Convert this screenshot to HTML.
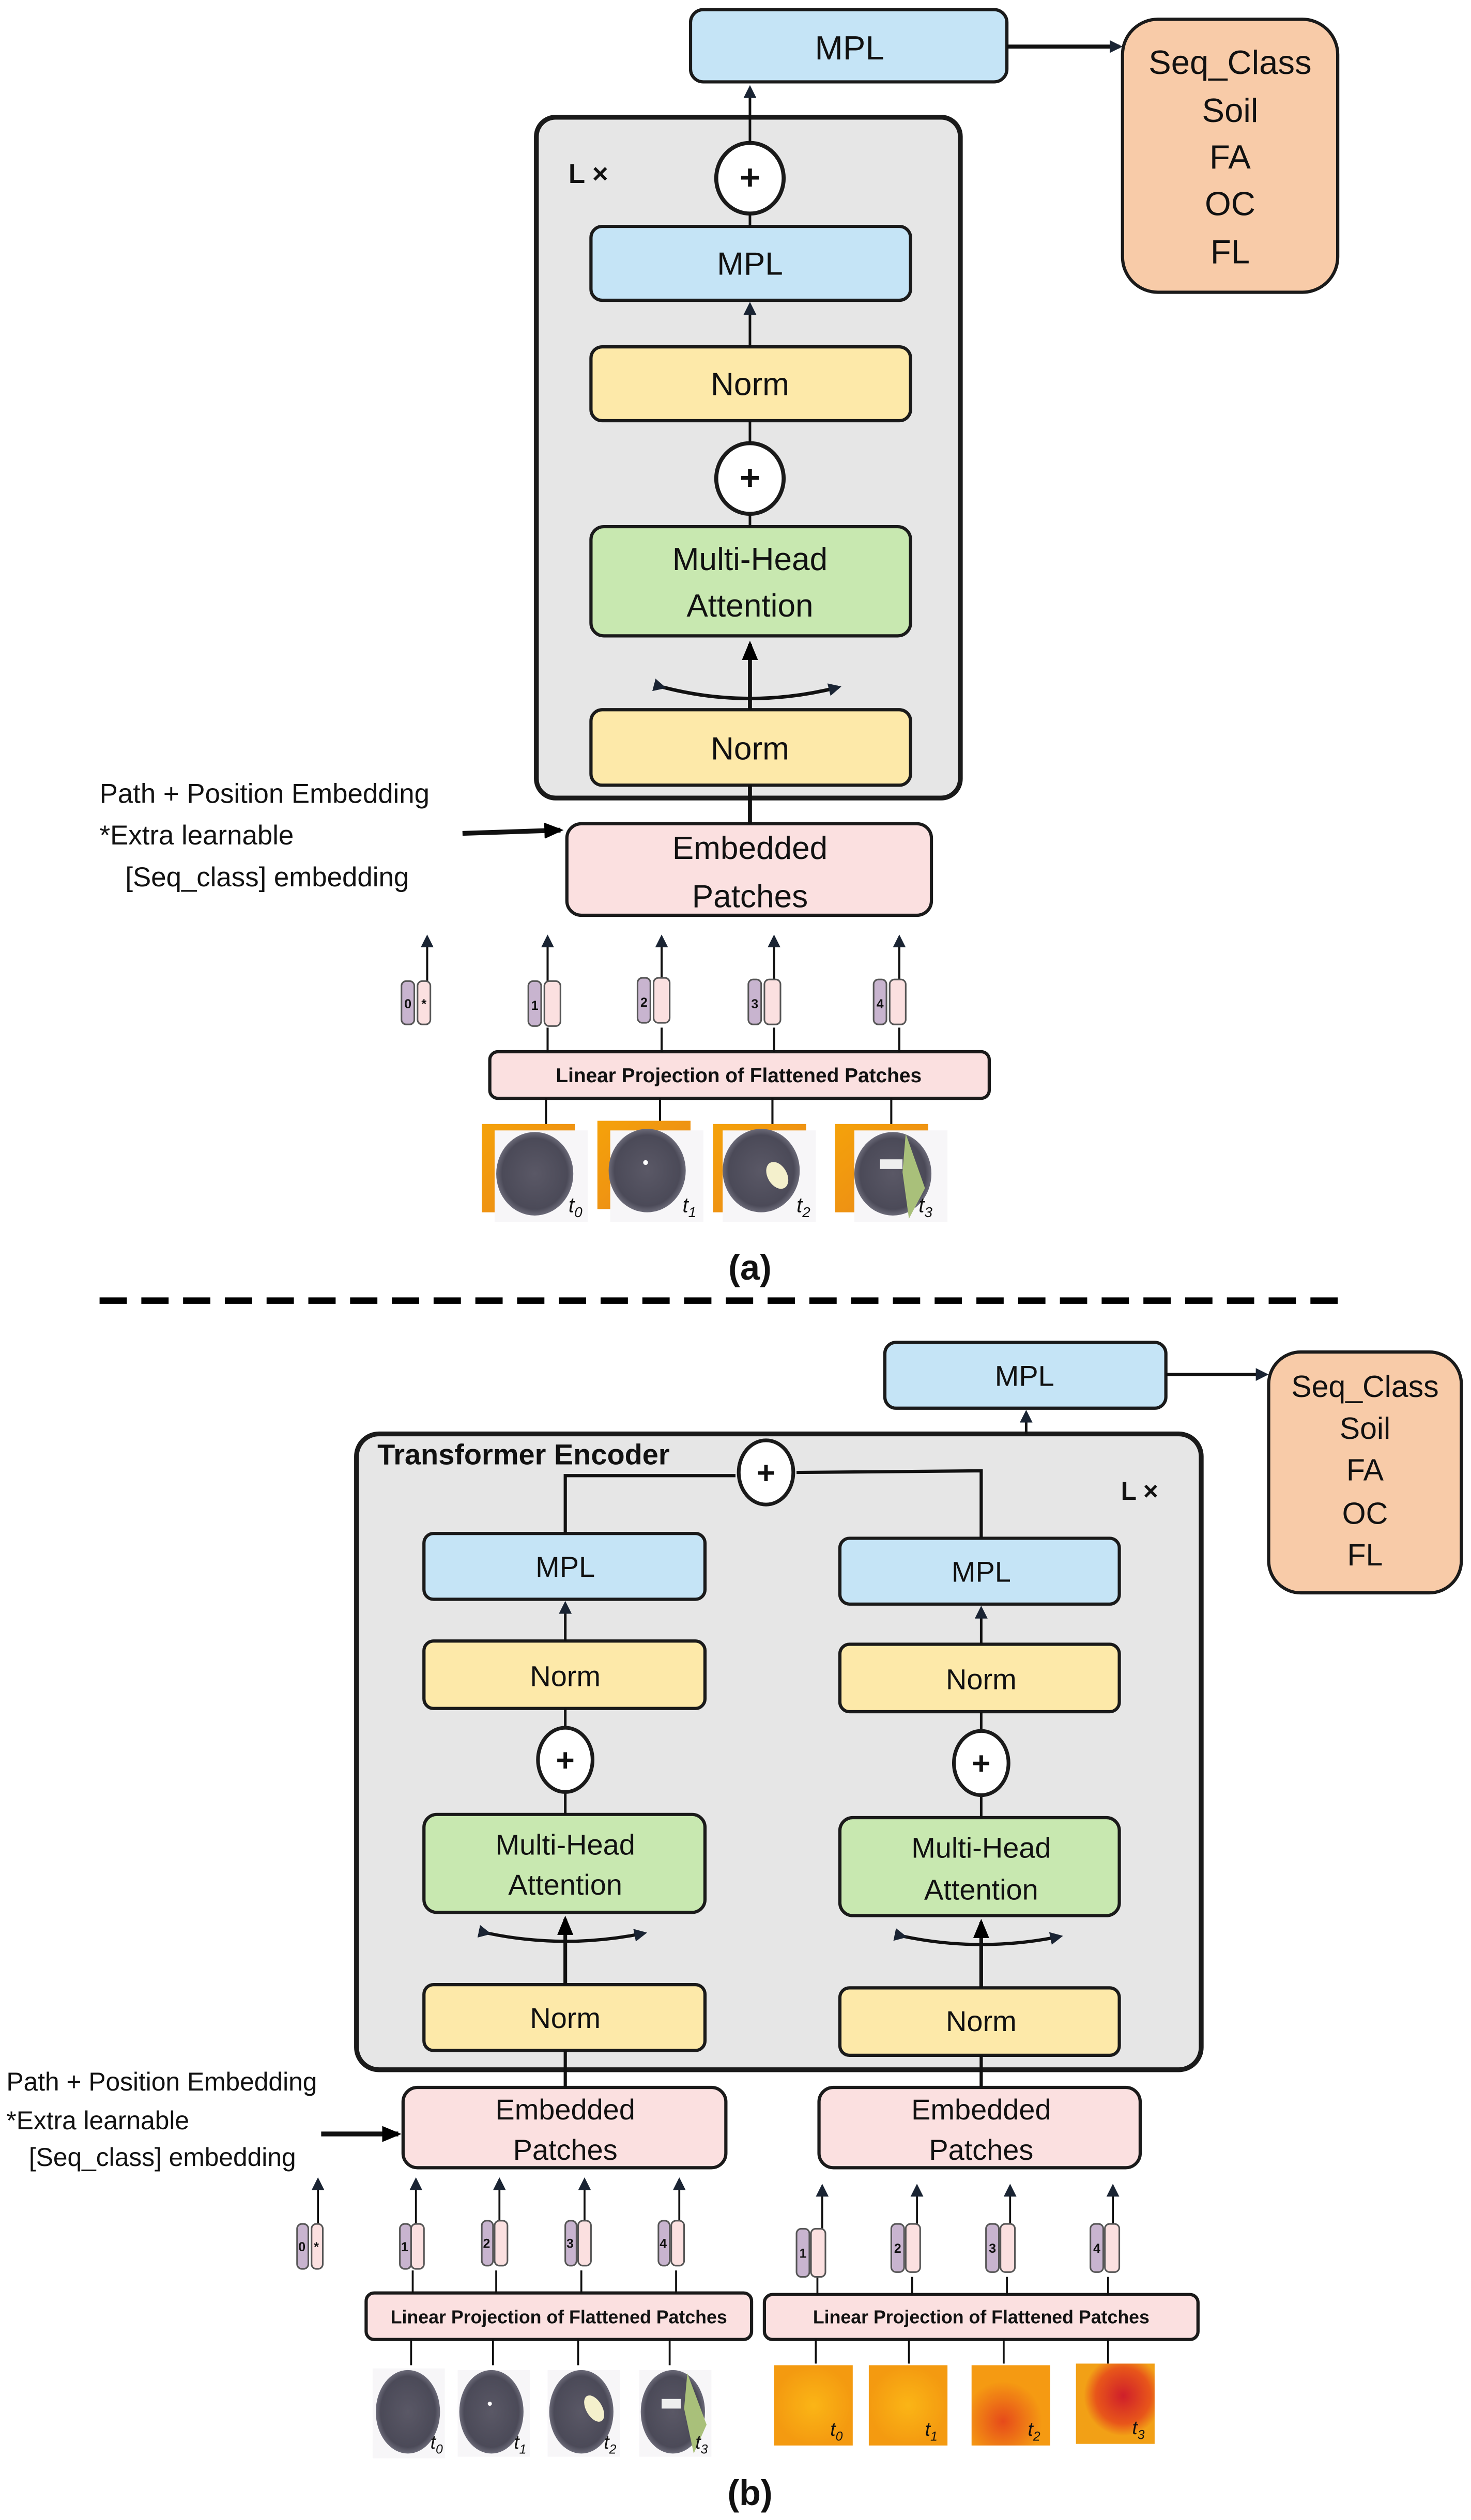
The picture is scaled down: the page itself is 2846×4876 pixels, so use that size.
<!DOCTYPE html>
<html><head><meta charset="utf-8"><style>html,body{margin:0;padding:0;background:#fff}svg{display:block}text{font-family:"Liberation Sans",sans-serif;fill:#111}</style></head>
<body>
<svg width="2846" height="4876" viewBox="0 0 916 1569.4" preserveAspectRatio="none" xmlns="http://www.w3.org/2000/svg">
<defs>
<marker id="ah" markerWidth="8" markerHeight="8" refX="6" refY="4" orient="auto" markerUnits="userSpaceOnUse"><path d="M0,0 L8,4 L0,8 Z" fill="#1a2433"/></marker>
<marker id="ahb" markerWidth="12" markerHeight="12" refX="10" refY="6" orient="auto" markerUnits="userSpaceOnUse"><path d="M0,1 L12,6 L0,11 Z" fill="#000"/></marker>
<linearGradient id="og" x1="0" y1="0" x2="1" y2="1"><stop offset="0" stop-color="#f5a20a"/><stop offset="1" stop-color="#e9861a"/></linearGradient>
<radialGradient id="grain" cx="0.5" cy="0.5" r="0.5"><stop offset="0" stop-color="#5a5866"/><stop offset="0.85" stop-color="#4b4a58"/><stop offset="1" stop-color="#6b6a78"/></radialGradient>
<radialGradient id="h0"><stop offset="0" stop-color="#fbb516"/><stop offset="1" stop-color="#f49a10"/></radialGradient>
<radialGradient id="h2" cx="0.4" cy="0.7"><stop offset="0" stop-color="#e64a1a"/><stop offset="1" stop-color="#f59a12"/></radialGradient>
<radialGradient id="h3" cx="0.6" cy="0.4"><stop offset="0" stop-color="#cf1f2a"/><stop offset="0.7" stop-color="#e8561a"/><stop offset="1" stop-color="#f2a016"/></radialGradient>
</defs>
<g stroke="#1a1a1a" stroke-width="2">
<!-- ===== (a) ===== -->
<rect x="430" y="6" width="197" height="45" rx="8" fill="#c5e4f6"/>
<rect x="699" y="12" width="134" height="170" rx="22" fill="#f8cba8"/>
<rect x="334" y="73" width="264" height="424" rx="12" fill="#e6e6e6" stroke-width="3"/>
<rect x="368" y="141" width="199" height="46" rx="7" fill="#c5e4f6"/>
<rect x="368" y="216" width="199" height="46" rx="7" fill="#fde9a9"/>
<rect x="368" y="328" width="199" height="68" rx="8" fill="#c8e8b0"/>
<rect x="368" y="442" width="199" height="47" rx="7" fill="#fde9a9"/>
<ellipse cx="467" cy="111" rx="21" ry="22" fill="#fff" stroke-width="2.5"/>
<ellipse cx="467" cy="298" rx="21" ry="22" fill="#fff" stroke-width="2.5"/>
<rect x="353" y="513" width="227" height="57" rx="9" fill="#fbe0e0"/>
<rect x="305" y="655" width="311" height="29" rx="5" fill="#fbe0e0"/>
</g>
<g stroke="#111" stroke-width="1.6" fill="none">
<line x1="467" y1="89" x2="467" y2="55" marker-end="url(#ah)"/>
<line x1="467" y1="141" x2="467" y2="133"/>
<line x1="467" y1="216" x2="467" y2="190" marker-end="url(#ah)"/>
<line x1="467" y1="276" x2="467" y2="262"/>
<line x1="467" y1="328" x2="467" y2="320"/>
<line x1="467" y1="513" x2="467" y2="489" stroke-width="2.5"/>
<line x1="467" y1="442" x2="467" y2="401" stroke-width="2.5" marker-end="url(#ahb)"/>
<path d="M413,428 Q467,442 522,428" stroke-width="2.2" marker-start="url(#ah)" marker-end="url(#ah)"/>
<line x1="627" y1="29" x2="697" y2="29" stroke-width="2.5" marker-end="url(#ah)"/>
<line x1="288" y1="519" x2="349" y2="517" stroke-width="3" marker-end="url(#ahb)"/>
</g>
<text x="529" y="37" font-size="21" text-anchor="middle">MPL</text>
<g font-size="21" text-anchor="middle"><text x="766" y="46">Seq_Class</text><text x="766" y="76">Soil</text><text x="766" y="105">FA</text><text x="766" y="134">OC</text><text x="766" y="164">FL</text></g>
<text x="354" y="114" font-size="17" font-weight="bold">L ×</text>
<text x="467" y="118" font-size="22" font-weight="bold" text-anchor="middle">+</text>
<text x="467" y="305" font-size="22" font-weight="bold" text-anchor="middle">+</text>
<text x="467" y="171" font-size="20" text-anchor="middle">MPL</text>
<text x="467" y="246" font-size="20" text-anchor="middle">Norm</text>
<text x="467" y="355" font-size="20" text-anchor="middle">Multi-Head</text>
<text x="467" y="384" font-size="20" text-anchor="middle">Attention</text>
<text x="467" y="473" font-size="20" text-anchor="middle">Norm</text>
<text x="467" y="535" font-size="20" text-anchor="middle">Embedded</text>
<text x="467" y="565" font-size="20" text-anchor="middle">Patches</text>
<g font-size="17"><text x="62" y="500">Path + Position Embedding</text><text x="62" y="526">*Extra learnable</text><text x="78" y="552">[Seq_class] embedding</text></g>
<text x="460" y="674" font-size="12.5" font-weight="bold" text-anchor="middle">Linear Projection of Flattened Patches</text>
<!-- tokens a -->
<g id="tokA">
<g stroke="#111" stroke-width="1.3" fill="none">
<line x1="266" y1="612" x2="266" y2="584" marker-end="url(#ah)"/>
<line x1="341" y1="612" x2="341" y2="584" marker-end="url(#ah)"/><line x1="341" y1="640" x2="341" y2="655"/>
<line x1="412" y1="612" x2="412" y2="584" marker-end="url(#ah)"/><line x1="412" y1="640" x2="412" y2="655"/>
<line x1="482" y1="612" x2="482" y2="584" marker-end="url(#ah)"/><line x1="482" y1="640" x2="482" y2="655"/>
<line x1="560" y1="612" x2="560" y2="584" marker-end="url(#ah)"/><line x1="560" y1="640" x2="560" y2="655"/>
<line x1="340" y1="684" x2="340" y2="703"/><line x1="411" y1="684" x2="411" y2="703"/><line x1="481" y1="684" x2="481" y2="703"/><line x1="555" y1="684" x2="555" y2="703"/>
</g>
<g stroke="#555" stroke-width="1">
<rect x="250" y="611" width="8" height="27" rx="3" fill="#c8b4cf"/><rect x="260" y="611" width="8" height="27" rx="3" fill="#fbe0e0"/>
<rect x="329" y="611" width="8" height="28" rx="3" fill="#c8b4cf"/><rect x="339" y="611" width="10" height="28" rx="3" fill="#fbe0e0"/>
<rect x="397" y="609" width="8" height="28" rx="3" fill="#c8b4cf"/><rect x="407" y="609" width="10" height="28" rx="3" fill="#fbe0e0"/>
<rect x="466" y="610" width="8" height="28" rx="3" fill="#c8b4cf"/><rect x="476" y="610" width="10" height="28" rx="3" fill="#fbe0e0"/>
<rect x="544" y="610" width="8" height="28" rx="3" fill="#c8b4cf"/><rect x="554" y="610" width="10" height="28" rx="3" fill="#fbe0e0"/>
</g>
<g font-size="8" font-weight="bold" text-anchor="middle"><text x="254" y="628">0</text><text x="264" y="628">*</text><text x="333" y="629">1</text><text x="401" y="627">2</text><text x="470" y="628">3</text><text x="548" y="628">4</text></g>
</g>
<!-- images a -->
<g>
<rect x="300" y="700" width="58" height="55" fill="url(#og)"/><rect x="308" y="704" width="58" height="57" fill="#f7f6f8"/><ellipse cx="333" cy="731" rx="24" ry="26" fill="url(#grain)"/>
<rect x="372" y="698" width="58" height="55" fill="url(#og)"/><rect x="380" y="704" width="58" height="57" fill="#f7f6f8"/><ellipse cx="403" cy="729" rx="24" ry="26" fill="url(#grain)"/><circle cx="402" cy="724" r="1.5" fill="#fff"/>
<rect x="444" y="700" width="58" height="55" fill="url(#og)"/><rect x="450" y="704" width="58" height="57" fill="#f7f6f8"/><ellipse cx="474" cy="729" rx="24" ry="26" fill="url(#grain)"/><ellipse cx="484" cy="732" rx="6" ry="9" fill="#f4f0cc" transform="rotate(-30 484 732)"/>
<rect x="520" y="700" width="58" height="55" fill="url(#og)"/><rect x="532" y="704" width="58" height="57" fill="#f7f6f8"/><ellipse cx="556" cy="731" rx="24" ry="26" fill="url(#grain)"/><path d="M564,706 L576,740 L566,759 L562,730 Z" fill="#a9c07a"/><rect x="548" y="722" width="14" height="6" fill="#eee"/>
<g font-size="13" font-style="italic" font-family="Liberation Serif"><text x="354" y="755">t<tspan font-size="9" dy="3">0</tspan></text><text x="425" y="755">t<tspan font-size="9" dy="3">1</tspan></text><text x="496" y="755">t<tspan font-size="9" dy="3">2</tspan></text><text x="572" y="755">t<tspan font-size="9" dy="3">3</tspan></text></g>
</g>
<text x="467" y="797" font-size="22" font-weight="bold" text-anchor="middle">(a)</text>
<line x1="62" y1="810" x2="842" y2="810" stroke="#000" stroke-width="4" stroke-dasharray="17,9"/>
<!-- ===== (b) ===== -->
<g stroke="#1a1a1a" stroke-width="2">
<rect x="551" y="836" width="175" height="41" rx="7" fill="#c5e4f6"/>
<rect x="790" y="842" width="120" height="150" rx="20" fill="#f8cba8"/>
<rect x="222" y="893" width="526" height="396" rx="14" fill="#e6e6e6" stroke-width="3"/>
<rect x="264" y="955" width="175" height="41" rx="6" fill="#c5e4f6"/>
<rect x="264" y="1022" width="175" height="42" rx="6" fill="#fde9a9"/>
<rect x="264" y="1130" width="175" height="61" rx="8" fill="#c8e8b0"/>
<rect x="264" y="1236" width="175" height="41" rx="6" fill="#fde9a9"/>
<rect x="523" y="958" width="174" height="41" rx="6" fill="#c5e4f6"/>
<rect x="523" y="1024" width="174" height="42" rx="6" fill="#fde9a9"/>
<rect x="523" y="1132" width="174" height="61" rx="8" fill="#c8e8b0"/>
<rect x="523" y="1238" width="174" height="42" rx="6" fill="#fde9a9"/>
<rect x="251" y="1300" width="201" height="50" rx="9" fill="#fbe0e0"/>
<rect x="510" y="1300" width="200" height="50" rx="9" fill="#fbe0e0"/>
<rect x="228" y="1428" width="240" height="29" rx="5" fill="#fbe0e0"/>
<rect x="476" y="1429" width="270" height="28" rx="5" fill="#fbe0e0"/>
</g>
<g stroke="#111" stroke-width="1.6" fill="none">
<polyline points="352,955 352,919 458,919" stroke-width="2"/>
<polyline points="496,917 611,916 611,958" stroke-width="2"/>
<line x1="639" y1="893" x2="639" y2="880" marker-end="url(#ah)"/>
<line x1="726" y1="856" x2="788" y2="856" stroke-width="2" marker-end="url(#ah)"/>
<line x1="352" y1="1022" x2="352" y2="999" marker-end="url(#ah)"/>
<line x1="611" y1="1024" x2="611" y2="1002" marker-end="url(#ah)"/>
<line x1="352" y1="1064" x2="352" y2="1076"/><line x1="352" y1="1116" x2="352" y2="1130"/>
<line x1="611" y1="1066" x2="611" y2="1078"/><line x1="611" y1="1118" x2="611" y2="1132"/>
<line x1="352" y1="1236" x2="352" y2="1195" stroke-width="2.3" marker-end="url(#ahb)"/>
<line x1="611" y1="1238" x2="611" y2="1197" stroke-width="2.3" marker-end="url(#ahb)"/>
<path d="M304,1204 Q352,1214 401,1204" stroke-width="2" marker-start="url(#ah)" marker-end="url(#ah)"/>
<path d="M563,1206 Q611,1216 660,1206" stroke-width="2" marker-start="url(#ah)" marker-end="url(#ah)"/>
<line x1="352" y1="1300" x2="352" y2="1277" stroke-width="2"/>
<line x1="611" y1="1300" x2="611" y2="1280" stroke-width="2"/>
<line x1="200" y1="1329" x2="248" y2="1329" stroke-width="3" marker-end="url(#ahb)"/>
</g>
<g stroke="#1a1a1a" stroke-width="2.3" fill="#fff">
<ellipse cx="477" cy="917" rx="17" ry="20"/><ellipse cx="352" cy="1096" rx="17" ry="20"/><ellipse cx="611" cy="1098" rx="17" ry="20"/>
</g>
<g font-size="20" font-weight="bold" text-anchor="middle"><text x="477" y="924">+</text><text x="352" y="1103">+</text><text x="611" y="1105">+</text></g>
<text x="638" y="863" font-size="18" text-anchor="middle">MPL</text>
<g font-size="19" text-anchor="middle"><text x="850" y="870">Seq_Class</text><text x="850" y="896">Soil</text><text x="850" y="922">FA</text><text x="850" y="949">OC</text><text x="850" y="975">FL</text></g>
<text x="235" y="912" font-size="18" font-weight="bold">Transformer Encoder</text>
<text x="698" y="934" font-size="16" font-weight="bold">L ×</text>
<g font-size="18" text-anchor="middle">
<text x="352" y="982">MPL</text><text x="352" y="1050">Norm</text><text x="352" y="1155">Multi-Head</text><text x="352" y="1180">Attention</text><text x="352" y="1263">Norm</text>
<text x="611" y="985">MPL</text><text x="611" y="1052">Norm</text><text x="611" y="1157">Multi-Head</text><text x="611" y="1183">Attention</text><text x="611" y="1265">Norm</text>
<text x="352" y="1320">Embedded</text><text x="352" y="1345">Patches</text><text x="611" y="1320">Embedded</text><text x="611" y="1345">Patches</text>
</g>
<g font-size="16"><text x="4" y="1302">Path + Position Embedding</text><text x="4" y="1326">*Extra learnable</text><text x="18" y="1349">[Seq_class] embedding</text></g>
<g font-size="11.5" font-weight="bold" text-anchor="middle"><text x="348" y="1447">Linear Projection of Flattened Patches</text><text x="611" y="1447">Linear Projection of Flattened Patches</text></g>
<!-- tokens b -->
<g stroke="#111" stroke-width="1.2" fill="none">
<line x1="198" y1="1386" x2="198" y2="1358" marker-end="url(#ah)"/>
<line x1="259" y1="1386" x2="259" y2="1358" marker-end="url(#ah)"/><line x1="257" y1="1414" x2="257" y2="1428"/>
<line x1="311" y1="1386" x2="311" y2="1358" marker-end="url(#ah)"/><line x1="309" y1="1414" x2="309" y2="1428"/>
<line x1="364" y1="1386" x2="364" y2="1358" marker-end="url(#ah)"/><line x1="362" y1="1414" x2="362" y2="1428"/>
<line x1="423" y1="1386" x2="423" y2="1358" marker-end="url(#ah)"/><line x1="421" y1="1414" x2="421" y2="1428"/>
<line x1="512" y1="1388" x2="512" y2="1362" marker-end="url(#ah)"/><line x1="509" y1="1418" x2="509" y2="1429"/>
<line x1="571" y1="1388" x2="571" y2="1362" marker-end="url(#ah)"/><line x1="568" y1="1418" x2="568" y2="1429"/>
<line x1="629" y1="1388" x2="629" y2="1362" marker-end="url(#ah)"/><line x1="627" y1="1418" x2="627" y2="1429"/>
<line x1="693" y1="1388" x2="693" y2="1362" marker-end="url(#ah)"/><line x1="690" y1="1418" x2="690" y2="1429"/>
<line x1="256" y1="1457" x2="256" y2="1473"/><line x1="307" y1="1457" x2="307" y2="1473"/><line x1="360" y1="1457" x2="360" y2="1473"/><line x1="417" y1="1457" x2="417" y2="1473"/>
<line x1="508" y1="1457" x2="508" y2="1472"/><line x1="566" y1="1457" x2="566" y2="1472"/><line x1="625" y1="1457" x2="625" y2="1472"/><line x1="690" y1="1457" x2="690" y2="1472"/>
</g>
<g stroke="#555" stroke-width="1">
<rect x="185" y="1385" width="7" height="28" rx="3" fill="#c8b4cf"/><rect x="194" y="1385" width="7" height="28" rx="3" fill="#fbe0e0"/>
<rect x="249" y="1385" width="7" height="28" rx="3" fill="#c8b4cf"/><rect x="256" y="1385" width="8" height="28" rx="3" fill="#fbe0e0"/>
<rect x="300" y="1383" width="7" height="28" rx="3" fill="#c8b4cf"/><rect x="308" y="1383" width="8" height="28" rx="3" fill="#fbe0e0"/>
<rect x="352" y="1383" width="7" height="28" rx="3" fill="#c8b4cf"/><rect x="360" y="1383" width="8" height="28" rx="3" fill="#fbe0e0"/>
<rect x="410" y="1383" width="7" height="28" rx="3" fill="#c8b4cf"/><rect x="418" y="1383" width="8" height="28" rx="3" fill="#fbe0e0"/>
<rect x="496" y="1388" width="8" height="30" rx="3" fill="#c8b4cf"/><rect x="505" y="1388" width="9" height="30" rx="3" fill="#fbe0e0"/>
<rect x="555" y="1385" width="8" height="30" rx="3" fill="#c8b4cf"/><rect x="564" y="1385" width="9" height="30" rx="3" fill="#fbe0e0"/>
<rect x="614" y="1385" width="8" height="30" rx="3" fill="#c8b4cf"/><rect x="623" y="1385" width="9" height="30" rx="3" fill="#fbe0e0"/>
<rect x="679" y="1385" width="8" height="30" rx="3" fill="#c8b4cf"/><rect x="688" y="1385" width="9" height="30" rx="3" fill="#fbe0e0"/>
</g>
<g font-size="8" font-weight="bold" text-anchor="middle"><text x="188" y="1402">0</text><text x="197" y="1402">*</text><text x="252" y="1402">1</text><text x="303" y="1400">2</text><text x="355" y="1400">3</text><text x="413" y="1400">4</text><text x="500" y="1406">1</text><text x="559" y="1403">2</text><text x="618" y="1403">3</text><text x="683" y="1403">4</text></g>
<!-- images b -->
<g>
<rect x="232" y="1475" width="45" height="56" fill="#f7f6f8"/><ellipse cx="254" cy="1502" rx="20" ry="26" fill="url(#grain)"/>
<rect x="285" y="1476" width="45" height="54" fill="#f7f6f8"/><ellipse cx="306" cy="1502" rx="20" ry="26" fill="url(#grain)"/><circle cx="305" cy="1497" r="1.3" fill="#fff"/>
<rect x="341" y="1476" width="45" height="54" fill="#f7f6f8"/><ellipse cx="362" cy="1502" rx="20" ry="26" fill="url(#grain)"/><ellipse cx="370" cy="1500" rx="5" ry="9" fill="#f4f0cc" transform="rotate(-30 370 1500)"/>
<rect x="398" y="1476" width="45" height="54" fill="#f7f6f8"/><ellipse cx="419" cy="1502" rx="20" ry="26" fill="url(#grain)"/><path d="M428,1478 L440,1510 L432,1528 L426,1500 Z" fill="#a9c07a"/><rect x="412" y="1494" width="12" height="6" fill="#eee"/>
<rect x="482" y="1473" width="49" height="95" fill="url(#h0)" height="95" transform="scale(1,1)" style="display:none"/>
<rect x="482" y="1473" width="49" height="50" fill="url(#h0)"/>
<rect x="541" y="1473" width="49" height="50" fill="url(#h0)"/>
<rect x="605" y="1473" width="49" height="50" fill="url(#h2)"/>
<rect x="670" y="1472" width="49" height="50" fill="url(#h3)"/>
<g font-size="12" font-style="italic" font-family="Liberation Serif"><text x="268" y="1525">t<tspan font-size="8" dy="3">0</tspan></text><text x="320" y="1525">t<tspan font-size="8" dy="3">1</tspan></text><text x="376" y="1525">t<tspan font-size="8" dy="3">2</tspan></text><text x="433" y="1525">t<tspan font-size="8" dy="3">3</tspan></text>
<text x="517" y="1517">t<tspan font-size="8" dy="3">0</tspan></text><text x="576" y="1517">t<tspan font-size="8" dy="3">1</tspan></text><text x="640" y="1517">t<tspan font-size="8" dy="3">2</tspan></text><text x="705" y="1516">t<tspan font-size="8" dy="3">3</tspan></text></g>
</g>
<text x="467" y="1560" font-size="22" font-weight="bold" text-anchor="middle">(b)</text>
</svg>
</body></html>
